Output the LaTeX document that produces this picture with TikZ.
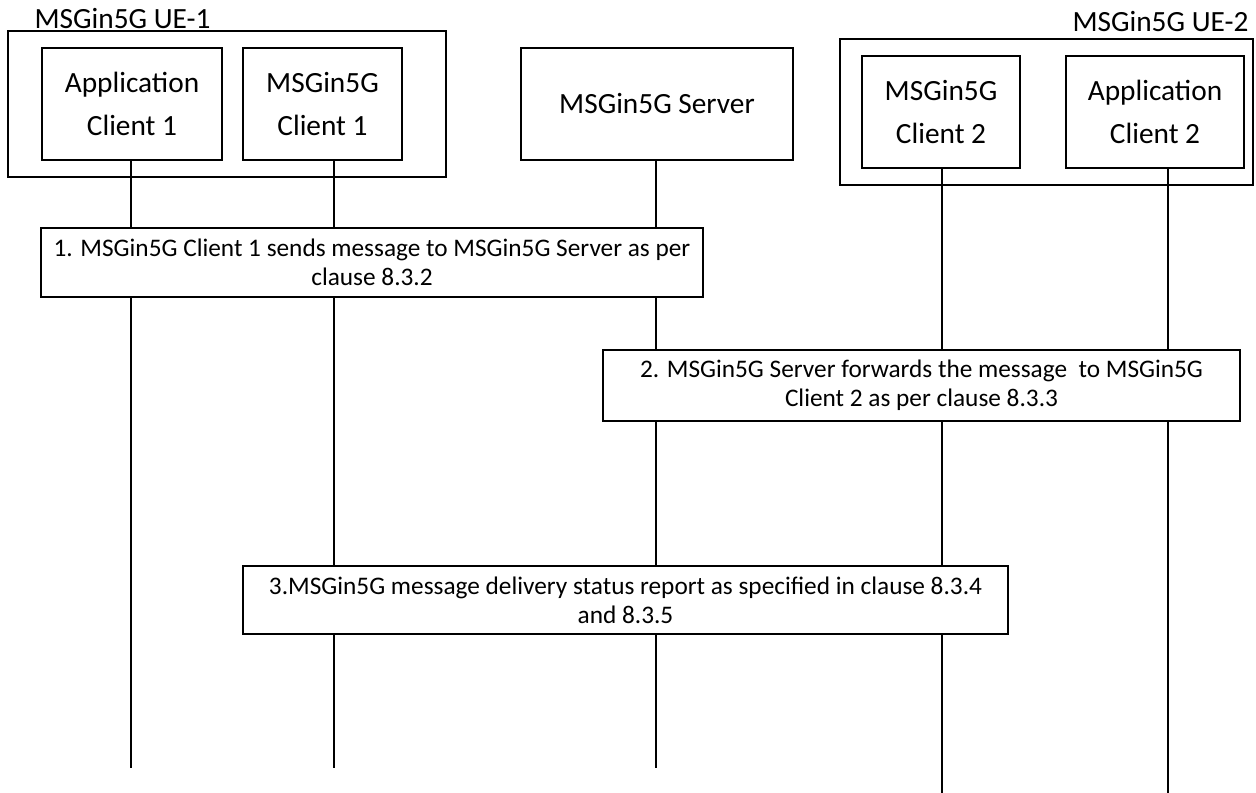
\documentclass[tikz,border=0pt]{standalone}
\usepackage{fontspec}
\setmainfont{Carlito}
\usetikzlibrary{positioning}

\begin{document}
\begin{tikzpicture}[x=0.02cm,y=-0.02cm,line width=0.7pt,
  box/.style={draw, align=center, inner sep=0pt, font=\fontsize{16.7}{24.4}\selectfont},%boites des entites
  ue/.style={draw, inner sep=0pt},%cadre des UE
  stepbox/.style={draw, fill=white, align=center, inner sep=0pt, font=\fontsize{14.4}{16.6}\selectfont}]%etapes
  \useasboundingbox (0,0) rectangle (1256,793);

  % UE-1
  \node[ue, minimum width=8.76cm, minimum height=2.92cm] (ue1) at (227,104) {};
  \node[anchor=base west, inner sep=0pt, font=\fontsize{16.7}{20}\selectfont] (ue1lbl) at (34,29) {MSGin5G UE-1};
  \node[box, minimum width=3.6cm, minimum height=2.24cm] (app1) at (132,104) {Application\\Client 1};
  \node[box, minimum width=3.18cm, minimum height=2.24cm] (cli1) at (322.5,104) {MSGin5G\\Client 1};

  % server
  \node[box, minimum width=5.44cm, minimum height=2.24cm] (srv) at (657,104) {MSGin5G Server};

  % UE-2
  \node[ue, minimum width=8.26cm, minimum height=2.92cm] (ue2) at (1046.5,112) {};
  \node[anchor=base east, inner sep=0pt, font=\fontsize{16.7}{20}\selectfont] (ue2lbl) at (1249,32) {MSGin5G UE-2};
  \node[box, minimum width=3.16cm, minimum height=2.24cm] (cli2) at (941,112) {MSGin5G\\Client 2};
  \node[box, minimum width=3.56cm, minimum height=2.24cm] (app2) at (1155,112) {Application\\Client 2};

  % bouts des lignes de vie
  \coordinate (e1) at (131,768);
  \coordinate (e2) at (334,768);
  \coordinate (e3) at (656,768);
  \coordinate (e4) at (942,793);
  \coordinate (e5) at (1168,793);

  \draw (app1.south -| e1) -- (e1);
  \draw (cli1.south -| e2) -- (e2);
  \draw (srv.south -| e3) -- (e3);
  \draw (cli2.south -| e4) -- (e4);
  \draw (app2.south -| e5) -- (e5);

  % etapes
  \node[stepbox, minimum width=13.24cm, minimum height=1.38cm] (s1) at (372,262.5)
    {1. MSGin5G Client 1 sends message to MSGin5G Server as per\\clause 8.3.2};
  \node[stepbox, minimum width=12.74cm, minimum height=1.42cm] (s2) at (921.5,385.5)
    {2. MSGin5G Server forwards the message\ \ to MSGin5G\\Client 2 as per clause 8.3.3};
  \node[stepbox, minimum width=15.3cm, minimum height=1.36cm] (s3) at (625.5,600)
    {3.MSGin5G message delivery status report as specified in clause 8.3.4\\and 8.3.5};

\end{tikzpicture}
\end{document}
